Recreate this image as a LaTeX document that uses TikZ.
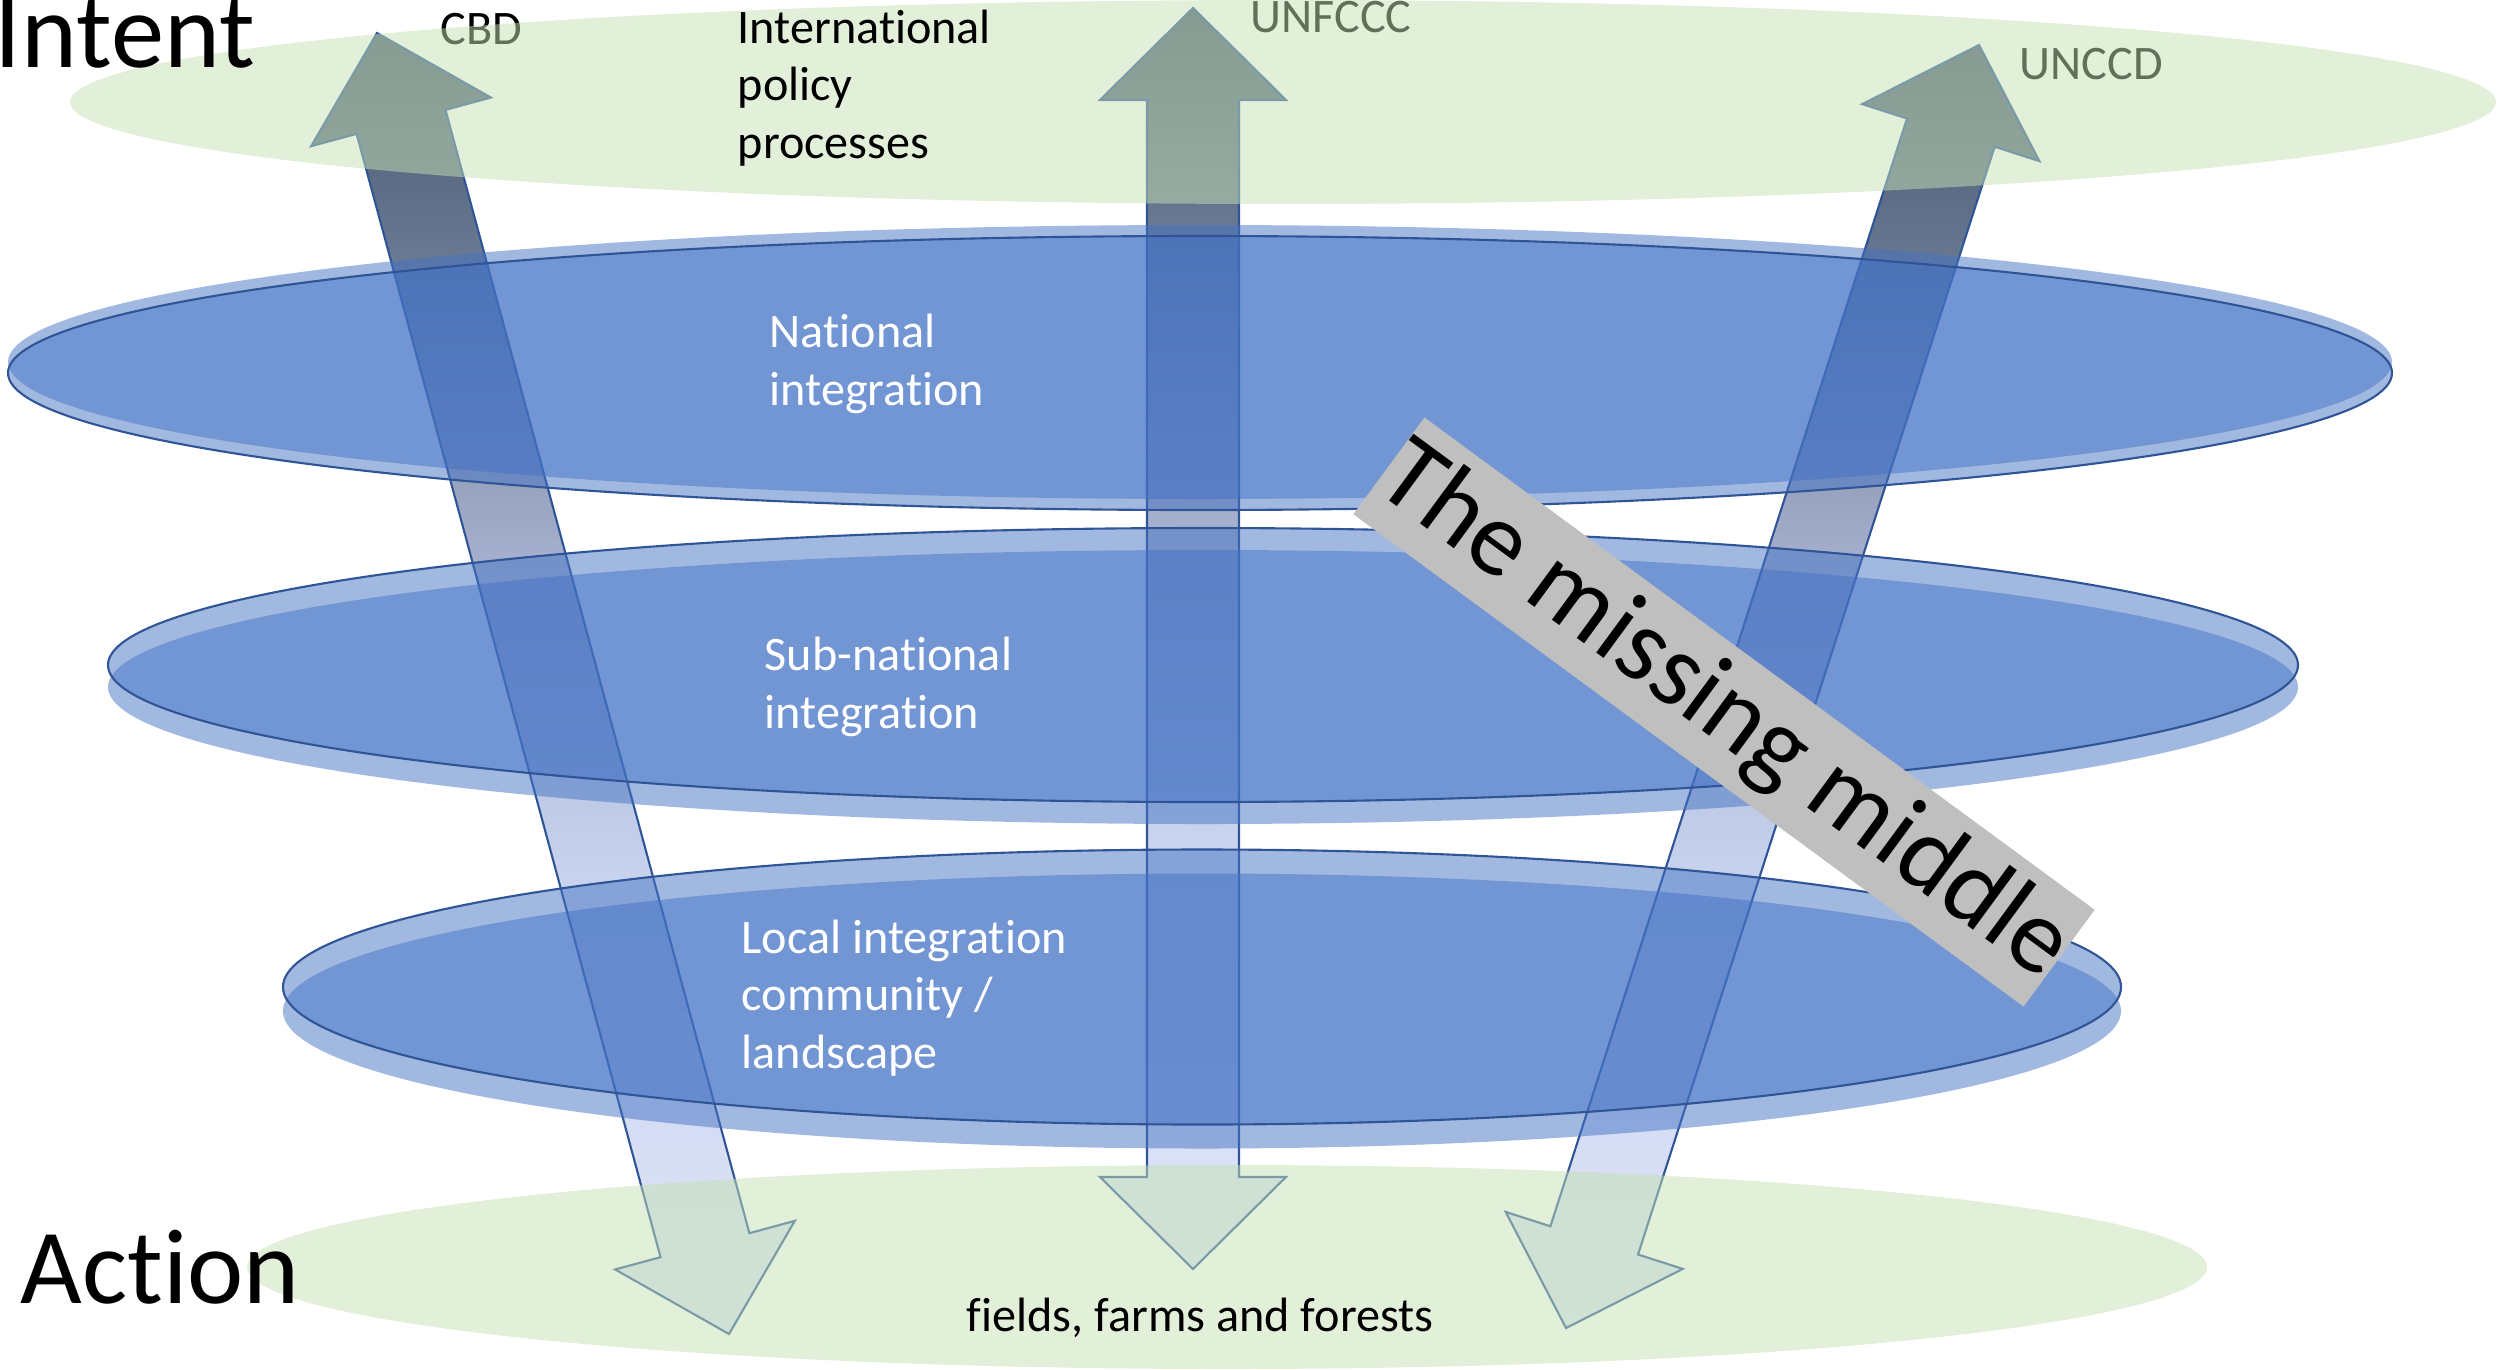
\documentclass[tikz,border=0pt]{standalone}
\usepackage{fontspec}
\setmainfont{Carlito}[Ligatures=NoCommon]
\usetikzlibrary{calc}

\definecolor{accent}{RGB}{68,114,196}
\definecolor{layeredge}{RGB}{47,85,151}
\definecolor{groundgreen}{RGB}{197,224,180}
\definecolor{boxgray}{RGB}{191,191,191}
\definecolor{arrowA}{RGB}{72,86,112}
\definecolor{arrowB}{RGB}{103,118,143}
\definecolor{arrowC}{RGB}{165,175,205}
\definecolor{arrowD}{RGB}{200,212,240}
\definecolor{arrowE}{RGB}{218,224,245}
\definecolor{arrowF}{RGB}{221,227,248}

\pgfdeclareverticalshading{arrowgrad}{100bp}{color(0bp)=(arrowF); color(25bp)=(arrowF);
  color(29.5bp)=(arrowE); color(42bp)=(arrowD); color(55bp)=(arrowC);
  color(67bp)=(arrowB); color(75bp)=(arrowA); color(100bp)=(arrowA)}

\tikzstyle{layer} = [fill=accent, fill opacity=0.5, draw=layeredge, line width=0.6pt]
\tikzstyle{rim} = [fill=accent, fill opacity=0.5]
\tikzstyle{ground} = [fill=groundgreen, fill opacity=0.5]
\tikzstyle{flowline} = [draw=layeredge, line width=0.6pt, line join=miter]
\tikzstyle{lbl} = [inner sep=0pt, align=left, font=\fontsize{13.7}{16.3}\selectfont]
\tikzstyle{big} = [inner sep=0pt, font=\fontsize{30.3}{36}\selectfont]

% block arrow with a head at both ends, from (#1 top) to (#1 bot)
\newcommand{\flow}[1]{%
  \coordinate (#1 h1) at ($(#1 top)!0.92cm!(#1 bot)$);
  \coordinate (#1 h2) at ($(#1 bot)!0.92cm!(#1 top)$);
  \draw[flowline, preaction={shade, shading=arrowgrad}] (#1 top)
    -- ($(#1 h1)!0.93cm!90:(#1 bot)$) -- ($(#1 h1)!0.46cm!90:(#1 bot)$)
    -- ($(#1 h2)!0.46cm!-90:(#1 top)$) -- ($(#1 h2)!0.93cm!-90:(#1 top)$)
    -- (#1 bot)
    -- ($(#1 h2)!0.93cm!90:(#1 top)$) -- ($(#1 h2)!0.46cm!90:(#1 top)$)
    -- ($(#1 h1)!0.46cm!-90:(#1 bot)$) -- ($(#1 h1)!0.93cm!-90:(#1 bot)$)
    -- cycle;}

\begin{document}
\begin{tikzpicture}[x=0.01cm, y=-0.01cm]
	\useasboundingbox (0,0) rectangle (2497,1369);
	%% treaty names, seen through the green layer
	\node[lbl, anchor=base west] (cbd) at (440,44) {CBD};
	\node[lbl, anchor=base west] (unfccc) at (1250,32) {UNFCCC};
	\node[lbl, anchor=base west] (unccd) at (2019,79) {UNCCD};
	%% Flows
	\coordinate (cbd top) at (377,33);
	\coordinate (cbd bot) at (729,1334);
	\coordinate (unfccc top) at (1193,8);
	\coordinate (unfccc bot) at (1193,1269);
	\coordinate (unccd top) at (1979,45);
	\coordinate (unccd bot) at (1566,1328);
	\flow{cbd}
	\flow{unfccc}
	\flow{unccd}
	%% Levels
	\fill[rim] (1200,362) ellipse [x radius=1192, y radius=137];
	\draw[layer] (1200,373) ellipse [x radius=1192, y radius=137];
	\fill[rim] (1203,687) ellipse [x radius=1095, y radius=137];
	\draw[layer] (1203,665) ellipse [x radius=1095, y radius=137];
	\fill[rim] (1202,1011) ellipse [x radius=919, y radius=137.5];
	\draw[layer] (1202,987) ellipse [x radius=919, y radius=137.5];
	\fill[ground] (1283,102) ellipse [x radius=1213, y radius=102];
	\fill[ground] (1227,1267) ellipse [x radius=980, y radius=102];
	%% Labels (base = last line)
	\node[lbl, anchor=base west] (intl) at (737,158) {International\\policy\\processes};
	\node[lbl, white, anchor=base west] (natl) at (769,405) {National\\integration};
	\node[lbl, white, anchor=base west] (subnatl) at (764,728) {Sub-national\\integration};
	\node[lbl, white, anchor=base west] (local) at (741,1068) {Local integration\\community /\\landscape};
	\node[lbl, anchor=base west] (fields) at (966,1331) {fields, farms and forests};
	\node[big, anchor=base west] (intent) at (-6,67) {Intent};
	\node[big, anchor=base west] (action) at (20,1303) {Action};
	\node[big, fill=boxgray, minimum width=8.28cm, minimum height=1.2cm, rotate=-36.3] (gap) at (1724,712) {The missing middle};
\end{tikzpicture}
\end{document}
